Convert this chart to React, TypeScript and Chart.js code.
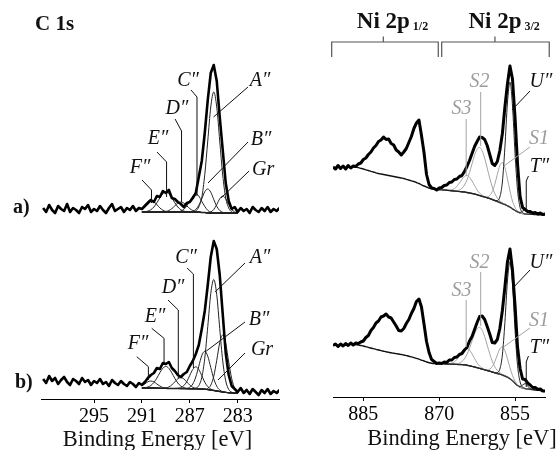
import React, { useEffect, useRef } from 'react';
import { Chart, registerables } from 'chart.js';

Chart.register(...registerables);

// ---------------- C 1s (binding energy, eV) ----------------
const C1S_ENERGY = [
  299.25, 299, 298.75, 298.5, 298.25, 298, 297.75, 297.5, 297.25, 297,
  296.75, 296.5, 296.25, 296, 295.75, 295.5, 295.25, 295, 294.75, 294.5,
  294.25, 294, 293.75, 293.5, 293.25, 293, 292.75, 292.5, 292.25, 292,
  291.75, 291.5, 291.25, 291, 290.75, 290.5, 290.25, 290, 289.75, 289.5,
  289.25, 289, 288.75, 288.5, 288.25, 288, 287.75, 287.5, 287.25, 287,
  286.75, 286.5, 286.25, 286, 285.75, 285.5, 285.25, 285, 284.75, 284.5,
  284.25, 284, 283.75, 283.5, 283.25, 283, 282.75, 282.5, 282.25, 282,
  281.75, 281.5, 281.25, 281, 280.75, 280.5, 280.25, 280, 279.75, 279.5,
];
// measured intensity (a.u., spectra offset vertically)
const C1S_MEASURED_A = [
  191, 187, 194, 189, 186, 193, 190, 188, 195, 187,
  191, 189, 186, 192, 190, 194, 187, 190, 188, 193,
  189, 186, 191, 195, 188, 190, 192, 187, 191, 189,
  193, 188, 191, 190, 193, 196, 199, 197, 203, 202,
  208, 206, 209, 201, 200, 197, 195, 192, 196, 197,
  201, 206, 222, 238, 266, 299, 326, 334, 318, 282,
  249, 216, 198, 190, 192, 187, 191, 188, 190, 186,
  192, 189, 187, 191, 188, 192, 187, 190, 188, 191,
];
const C1S_MEASURED_B = [
  20, 16, 23, 18, 21, 15, 19, 22, 17, 14,
  20, 18, 15, 21, 17, 19, 14, 18, 16, 20,
  15, 17, 13, 19, 16, 14, 18, 15, 13, 17,
  15, 12, 16, 14, 17, 21, 24, 26, 31, 30,
  36, 35, 37, 31, 28, 24, 22, 25, 27, 33,
  38, 45, 54, 70, 88, 114, 142, 158, 150, 124,
  85, 46, 24, 13, 10, 7, 11, 6, 9, 5,
  10, 7, 4, 9, 6, 10, 5, 8, 6, 9,
];
const C1S_FIT_ENERGY = C1S_ENERGY.slice(33, 66); // 291 ... 283
const C1S_BG_A = [
  187, 187, 187, 187, 187, 187, 187, 187, 187, 187, 187, 187, 187, 187, 187, 187, 187, 187, 187, 187,
  186.5, 186.5, 186, 186, 186, 186, 186, 186, 186, 186, 186, 186, 186,
];
const C1S_BG_B = [
  11, 11, 11, 11, 11, 10.8, 10.7, 10.6, 10.6, 10.5, 10.5, 10.5, 10.5,
  10.4, 10.4, 10.3, 10.3, 10.2, 10.2, 10.1, 10,
  9.7, 9.4, 9, 8.5, 8, 7.5, 7, 6.6, 6.3, 6.1, 6, 6,
];
// fitted components (height above background)
const A_A = [0,0,0,0,0,0,0,0,0,0,0,0,0,0,0,0,0,0,1,5,15,38,72,106,121,106,72,38,15,5,1,0,0];
const A_B = [0,0,0,0,0,0,0,0,0,0,0,0,0,0,0,0,0,0.7,2.5,6.7,13.6,20.8,24,20.8,13.6,6.7,2.5,0.7,0,0,0,0,0];
const A_GR = [0,0,0,0,0,0,0,0,0,0,0,0,0,0,0,0,0,0,0,0,0,0,0.2,1,3.5,8.4,14.2,17,14.2,8.4,3.5,1,0.2];
const A_C = [0,0,0,0,0,0,0,0,0,0,0,0,0.2,0.9,2.6,6.1,11.1,16,18,16,11.1,6.1,2.6,0.9,0.2,0,0,0,0,0,0,0,0];
const A_D = [0,0,0,0,0,0,0,0,0.5,1.5,3.4,6.2,8.9,10,8.9,6.2,3.4,1.5,0.5,0,0,0,0,0,0,0,0,0,0,0,0,0,0];
const A_E = [0.1,0.3,0.9,2.3,5,9.2,14.1,18.3,20,18.3,14.1,9.2,5,2.3,0.9,0.3,0,0,0,0,0,0,0,0,0,0,0,0,0,0,0,0,0];
const A_F = [4.1,7.4,10.6,12,10.6,7.4,4.1,1.8,0.6,0,0,0,0,0,0,0,0,0,0,0,0,0,0,0,0,0,0,0,0,0,0,0,0];

const B_A = [0,0,0,0,0,0,0,0,0,0,0,0,0,0,0,0,0,0,0.7,3.2,11.5,31.1,63,96.3,111,96.3,63,31.1,11.5,3.2,0.7,0,0];
const B_B = [0,0,0,0,0,0,0,0,0,0,0,0,0,0,0,0.3,1.5,4.8,11.8,22.6,33.4,38,33.4,22.6,11.8,4.8,1.5,0.3,0,0,0,0,0];
const B_GR = [0,0,0,0,0,0,0,0,0,0,0,0,0,0,0,0,0,0,0,0,0,0.2,1.2,4.8,14.2,30.7,48.8,57,48.8,30.7,14.2,4.8,1.2];
const B_C = [0,0,0,0,0,0,0,0,0,0,0,0,0.2,1,3,7.1,13.4,19.4,22,19.4,13.4,7.1,3,1,0.2,0,0,0,0,0,0,0,0];
const B_D = [0,0,0,0,0,0,0,0,0.5,1.5,3.6,6.7,9.7,11,9.7,6.7,3.6,1.5,0.5,0,0,0,0,0,0,0,0,0,0,0,0,0,0];
const B_E = [0.1,0.3,1,2.5,5.5,10.1,15.6,20.2,22,20.2,15.6,10.1,5.5,2.5,1,0.3,0,0,0,0,0,0,0,0,0,0,0,0,0,0,0,0,0];
const B_F = [2.3,4.2,6.2,7,6.2,4.2,2.3,0.9,0.3,0,0,0,0,0,0,0,0,0,0,0,0,0,0,0,0,0,0,0,0,0,0,0,0];

const C1S_TICKS = [295, 291, 287, 283];

// ---------------- Ni 2p ----------------
const NI_ENERGY = [
  891, 890.5, 890, 889.5, 889, 888.5, 888, 887.5, 887, 886.5,
  886, 885.5, 885, 884.5, 884, 883.5, 883, 882.5, 882, 881.5,
  881, 880.5, 880, 879.5, 879, 878.5, 878, 877.5, 877, 876.5,
  876, 875.5, 875, 874.5, 874, 873.5, 873, 872.5, 872, 871.5,
  871, 870.5, 870, 869.5, 869, 868.5, 868, 867.5, 867, 866.5,
  866, 865.5, 865, 864.5, 864, 863.5, 863, 862.5, 862, 861.5,
  861, 860.5, 860, 859.5, 859, 858.5, 858, 857.5, 857, 856.5,
  856, 855.5, 855, 854.5, 854, 853.5, 853, 852.5, 852, 851.5,
  851, 850.5, 850, 849.5, 849,
];
const NI_MEASURED_A = [
  230, 228, 231.5, 228.5, 231, 228, 231.5, 229, 231, 230.5,
  233, 234, 237.5, 239, 242.5, 245, 249, 251.5, 255.5, 257,
  260, 257.5, 258, 253.5, 252, 247, 245, 242, 245, 248.5,
  254.5, 260.5, 268.5, 274, 277, 261.5, 244.5, 222.5, 212.5, 209,
  208.5, 207, 209, 209.5, 211.5, 212, 214.5, 215, 217.5, 218,
  220.5, 221.5, 225.5, 230.5, 236.5, 243.5, 250.5, 255.5, 260, 259.5,
  257.5, 251.5, 242.5, 233.5, 231.5, 235.5, 246.5, 263.5, 290, 313,
  331, 318, 280, 233, 200.5, 189.5, 187.5, 185.5, 185.5, 184,
  184.5, 183, 184, 182.5, 183,
];
const NI_MEASURED_B = [
  51.5, 53, 50.5, 53, 51, 53.5, 51.5, 54, 52, 54,
  53.5, 55, 56, 59.5, 61.5, 66.5, 69.5, 74, 76, 80,
  81, 83, 80, 79, 75, 71, 66.5, 66, 68.5, 73.5,
  77.5, 83.5, 88.5, 95.5, 98, 90, 73, 55.5, 44.5, 37.5,
  35.5, 33.5, 34, 33.5, 35, 34.5, 37, 37, 39.5, 40,
  42.5, 43.5, 47, 49.5, 56, 60.5, 67.5, 74.5, 80.5, 81,
  77.5, 70.5, 63, 54.5, 54, 57.5, 68.5, 86.5, 110, 135,
  148, 127, 92, 50, 28.5, 18, 17.5, 14, 12, 9.5,
  9.5, 7.5, 8, 6, 6,
];
const NI_BG_ENERGY = NI_ENERGY.slice(8); // 887 ... 849
const NI_BG_A = [
  230, 229.7, 229.4, 228.7, 228, 227.2, 226.5, 225.7, 225, 224.2,
  223.5, 223, 222.5, 222, 221.5, 221, 220.5, 220, 219.5, 219,
  218.5, 217.7, 217, 216.2, 215.5, 214.5, 213.5, 212.2, 211, 210,
  209, 208.3, 207.6, 207.4, 207.2, 207.1, 207, 206.7, 206.5, 206.2,
  206, 205.7, 205.5, 205.2, 205, 204.5, 204, 203.5, 203, 202.2,
  201.5, 200.7, 200, 199.2, 198.5, 197.5, 196.5, 195.5, 194.5, 193.5,
  192.5, 191.2, 190, 188.2, 186.5, 185.2, 184, 183.5, 183, 182.8,
  182.7, 182.6, 182.5, 182.4, 182.3, 182.1, 182,
];
const NI_BG_B = [
  53, 52.5, 52, 51.5, 51, 50.3, 49.6, 49, 48.3, 47.6,
  47, 46.4, 45.8, 45.2, 44.7, 44.2, 43.8, 43.4, 43, 42.5,
  42, 41.4, 40.8, 40.1, 39.4, 38.6, 37.8, 36.9, 36, 35,
  34.3, 33.8, 33.5, 33.4, 33.3, 33.2, 33.1, 33, 32.9, 32.8,
  32.7, 32.6, 32.5, 32.4, 32.2, 31.8, 31.2, 30.6, 30, 29.3,
  28.6, 27.9, 27.2, 26.5, 25.8, 25, 24.2, 23.5, 22.8, 22,
  21, 19.8, 18.2, 16.2, 13.8, 11.5, 10, 9, 8.4, 8,
  7.7, 7.4, 7.1, 6.8, 6.5, 6.2, 6,
];
const NI_FIT_ENERGY = NI_ENERGY.slice(44); // 869 ... 849
const NA_S2 = [0,0,0,0,0.2,0.6,1.6,3.5,7,12.6,20.4,29.7,38.8,45.5,48,45.5,38.8,29.7,20.4,12.6,7,3.5,1.6,0.6,0.2,0,0,0,0,0,0,0,0,0,0,0,0,0,0,0,0];
const NA_S3 = [0,0.1,0.4,1.1,2.4,4.9,8.5,12.5,15.7,17,15.7,12.5,8.5,4.9,2.4,1.1,0.4,0.1,0,0,0,0,0,0,0,0,0,0,0,0,0,0,0,0,0,0,0,0,0,0,0];
const NA_S1 = [0,0,0,0,0,0,0,0,0,0,0,0,0,0,0,0,0.3,1,3.1,7.8,16.2,27.1,37,41,37,27.1,16.2,7.8,3.1,1,0.3,0,0,0,0,0,0,0,0,0,0];
const NA_U = [0,0,0,0,0,0,0,0,0,0,0,0,0,0,0,0,0,0,0,0,0,1,5.5,21.5,57.3,102.8,125,102.8,57.3,21.5,5.5,1,0,0,0,0,0,0,0,0,0];
const NA_T = [0,0,0,0,0,0,0,0,0,0,0,0,0,0,0,0,0,0,0,0,0,0,0,0,0,0,0,0,0,0,0.5,2.4,4,2.4,0.5,0,0,0,0,0,0];

const NB_S2 = [0,0,0,0,0.2,0.5,1.4,3,6,10.8,17.4,25.3,33.1,38.9,41,38.9,33.1,25.3,17.4,10.8,6,3,1.4,0.5,0.2,0,0,0,0,0,0,0,0,0,0,0,0,0,0,0,0];
const NB_S3 = [0,0.1,0.4,1.1,2.4,4.9,8.5,12.5,15.7,17,15.7,12.5,8.5,4.9,2.4,1.1,0.4,0.1,0,0,0,0,0,0,0,0,0,0,0,0,0,0,0,0,0,0,0,0,0,0,0];
const NB_S1 = [0,0,0,0,0,0,0,0,0,0,0,0,0,0,0,0,0.2,0.7,2.1,5.3,11.1,18.5,25.3,28,25.3,18.5,11.1,5.3,2.1,0.7,0.2,0,0,0,0,0,0,0,0,0,0];
const NB_U = [0,0,0,0,0,0,0,0,0,0,0,0,0,0,0,0,0,0,0,0,0,0.9,5.1,20.1,53.6,96.2,117,96.2,53.6,20.1,5.1,0.9,0,0,0,0,0,0,0,0,0];
const NB_T = [0,0,0,0,0,0,0,0,0,0,0,0,0,0,0,0,0,0,0,0,0,0,0,0,0,0,0,0,0,0,0.5,3,5,3,0.5,0,0,0,0,0,0];

const NI_TICKS = [885, 870, 855];

// ---------------- styling ----------------
const SERIF = '"Liberation Serif", "Times New Roman", serif';
const BLACK = '#111111';
const GREY = '#a3a3a3';
const GREY_TEXT = '#9c9c9c';

type Pt = [number, number];
interface Label { text: string; at: Pt; color: string }
interface Leader { path: Pt[]; color: string }

const C1S_LABELS: Label[] = [
  { text: 'C\u2033', at: [287.15, 318], color: BLACK },
  { text: 'A\u2033', at: [281.13, 318], color: BLACK },
  { text: 'D\u2033', at: [288.07, 290], color: BLACK },
  { text: 'E\u2033', at: [289.66, 260], color: BLACK },
  { text: 'B\u2033', at: [281.05, 259], color: BLACK },
  { text: 'F\u2033', at: [291.16, 231], color: BLACK },
  { text: 'Gr', at: [280.88, 229], color: BLACK },
  { text: 'C\u2033', at: [287.31, 141], color: BLACK },
  { text: 'A\u2033', at: [281.13, 141], color: BLACK },
  { text: 'D\u2033', at: [288.4, 111], color: BLACK },
  { text: 'E\u2033', at: [289.9, 82], color: BLACK },
  { text: 'B\u2033', at: [281.22, 79], color: BLACK },
  { text: 'F\u2033', at: [291.32, 55], color: BLACK },
  { text: 'Gr', at: [280.97, 49], color: BLACK },
];
const C1S_LEADERS: Leader[] = [
  { path: [[286.9, 309], [286.4, 302], [286.4, 203]], color: BLACK },
  { path: [[288.23, 280], [287.69, 268], [287.69, 197]], color: BLACK },
  { path: [[289.74, 247], [288.94, 237], [288.94, 202]], color: BLACK },
  { path: [[290.99, 219], [290.2, 209], [290.2, 196]], color: BLACK },
  { path: [[282.14, 312], [285.02, 282]], color: BLACK },
  { path: [[282.14, 257], [285.48, 216]], color: BLACK },
  { path: [[282.05, 228], [284.39, 201]], color: BLACK },
  { path: [[287.23, 131], [286.7, 125], [286.7, 31]], color: BLACK },
  { path: [[288.82, 99], [287.96, 89], [287.96, 21]], color: BLACK },
  { path: [[290.18, 70.7], [289.15, 60.7], [289.15, 35.7]], color: BLACK },
  { path: [[291.43, 42.3], [290.46, 32.3], [290.46, 19]], color: BLACK },
  { path: [[282.39, 136], [284.89, 107]], color: BLACK },
  { path: [[282.39, 77], [285.73, 47]], color: BLACK },
  { path: [[282.39, 46], [284.64, 19]], color: BLACK },
];
const NI_LABELS: Label[] = [
  { text: 'S2', at: [862.03, 315], color: GREY_TEXT },
  { text: 'S3', at: [865.59, 288], color: GREY_TEXT },
  { text: 'U\u2033', at: [849.87, 315], color: BLACK },
  { text: 'S1', at: [850.26, 258], color: GREY_TEXT },
  { text: 'T\u2033', at: [850.17, 230], color: BLACK },
  { text: 'S2', at: [862.03, 134], color: GREY_TEXT },
  { text: 'S3', at: [865.59, 106], color: GREY_TEXT },
  { text: 'U\u2033', at: [849.87, 134], color: BLACK },
  { text: 'S1', at: [850.26, 76], color: GREY_TEXT },
  { text: 'T\u2033', at: [850.17, 49], color: BLACK },
];
const NI_LEADERS: Leader[] = [
  { path: [[861.79, 305], [861.79, 251]], color: GREY },
  { path: [[864.66, 278], [864.66, 222]], color: GREY },
  { path: [[852.04, 306], [855.6, 287]], color: BLACK },
  { path: [[852.04, 250], [857.19, 231]], color: GREY },
  { path: [[852.34, 221], [852.78, 216], [852.78, 187]], color: BLACK },
  { path: [[861.79, 125], [861.79, 71]], color: GREY },
  { path: [[864.66, 97], [864.66, 50]], color: GREY },
  { path: [[852.04, 127], [855.6, 108]], color: BLACK },
  { path: [[852.04, 69], [857.28, 50]], color: GREY },
  { path: [[852.34, 41], [852.78, 35], [852.78, 10]], color: BLACK },
];

// ---------------- helpers ----------------
function series(xs: number[], ys: number[], color: string, width: number, smooth: boolean) {
  return {
    data: xs.map((x, i) => ({ x, y: ys[i] })),
    borderColor: color,
    borderWidth: width,
    borderJoinStyle: 'round',
    pointRadius: 0,
    fill: false,
    tension: smooth ? 0.4 : 0,
    cubicInterpolationMode: smooth ? 'monotone' : 'default',
  };
}
function onBackground(xs: number[], comp: number[], bgXs: number[], bg: number[]) {
  const lookup = new Map<number, number>();
  bgXs.forEach((e, i) => lookup.set(e, bg[i]));
  return comp.map((v, i) => v + (lookup.get(xs[i]) ?? 0));
}

function overlayPlugin(labels: Label[], leaders: Leader[], offsetX: number, extra: (ctx: CanvasRenderingContext2D, chart: any) => void) {
  return {
    id: 'overlay',
    afterDraw(chart: any) {
      const ctx: CanvasRenderingContext2D = chart.ctx;
      const sx = chart.scales.x;
      const sy = chart.scales.y;
      ctx.save();
      ctx.lineWidth = 1;
      for (const l of leaders) {
        ctx.beginPath();
        ctx.strokeStyle = l.color;
        l.path.forEach(([e, v], i) => {
          const px = sx.getPixelForValue(e);
          const py = sy.getPixelForValue(v);
          if (i === 0) ctx.moveTo(px, py); else ctx.lineTo(px, py);
        });
        ctx.stroke();
      }
      ctx.font = `italic 20px ${SERIF}`;
      ctx.textAlign = 'center';
      ctx.textBaseline = 'middle';
      for (const a of labels) {
        ctx.fillStyle = a.color;
        ctx.fillText(a.text, sx.getPixelForValue(a.at[0]), sy.getPixelForValue(a.at[1]));
      }
      ctx.translate(-offsetX, 0);
      extra(ctx, chart);
      ctx.restore();
    },
  };
}

function xScale(min: number, max: number, ticks: number[], axisHeight: number) {
  return {
    type: 'linear',
    reverse: true,
    min,
    max,
    afterFit: (s: any) => { s.height = axisHeight; },
    afterBuildTicks: (s: any) => { s.ticks = ticks.map((v) => ({ value: v })); },
    grid: { display: true, drawOnChartArea: false, drawTicks: true, tickLength: 4, color: '#000', lineWidth: 1 },
    border: { display: true, color: '#000', width: 1 },
    ticks: {
      font: { family: SERIF, size: 20 },
      color: '#000',
      padding: 2,
      maxRotation: 0,
      autoSkip: false,
      callback: (v: any) => String(v),
    },
  };
}

function buildC1s() {
  const datasets: any[] = [
    series(C1S_ENERGY, C1S_MEASURED_A, '#000', 2.6, false),
    series(C1S_ENERGY, C1S_MEASURED_B, '#000', 2.6, false),
  ];
  const compsA = [A_A, A_B, A_GR, A_C, A_D, A_E, A_F];
  const compsB = [B_A, B_B, B_GR, B_C, B_D, B_E, B_F];
  compsA.forEach((c) => datasets.push(series(C1S_FIT_ENERGY, onBackground(C1S_FIT_ENERGY, c, C1S_FIT_ENERGY, C1S_BG_A), '#222', 1, true)));
  compsB.forEach((c) => datasets.push(series(C1S_FIT_ENERGY, onBackground(C1S_FIT_ENERGY, c, C1S_FIT_ENERGY, C1S_BG_B), '#222', 1, true)));
  datasets.push(series(C1S_FIT_ENERGY, C1S_BG_A, '#111', 1.4, true));
  datasets.push(series(C1S_FIT_ENERGY, C1S_BG_B, '#111', 1.4, true));

  const extra = (ctx: CanvasRenderingContext2D) => {
    ctx.fillStyle = '#111';
    ctx.textAlign = 'left';
    ctx.textBaseline = 'alphabetic';
    ctx.font = `bold 21px ${SERIF}`;
    ctx.fillText('C 1s', 35, 30);
    ctx.font = `bold 20px ${SERIF}`;
    ctx.fillText('a)', 13, 213);
    ctx.fillText('b)', 15, 388);
    ctx.textAlign = 'center';
    ctx.font = `22.5px ${SERIF}`;
    ctx.fillText('Binding Energy [eV]', 157.5, 446);
  };

  return {
    type: 'line',
    data: { datasets },
    options: {
      responsive: false,
      animation: false,
      devicePixelRatio: 1,
      layout: { autoPadding: false, padding: { top: 40, left: 41.7, right: 11, bottom: 0 } },
      plugins: { legend: { display: false }, tooltip: { enabled: false }, title: { display: false } },
      scales: {
        x: xScale(279.55, 299.37, C1S_TICKS, 51),
        y: { type: 'linear', display: false, min: 0, max: 359 },
      },
    },
    plugins: [overlayPlugin(C1S_LABELS, C1S_LEADERS, 0, extra)],
  };
}

function buildNi(offsetX: number) {
  const datasets: any[] = [
    series(NI_ENERGY, NI_MEASURED_A, '#000', 3, false),
    series(NI_ENERGY, NI_MEASURED_B, '#000', 3, false),
  ];
  [NA_U, NA_T].forEach((c) => datasets.push(series(NI_FIT_ENERGY, onBackground(NI_FIT_ENERGY, c, NI_BG_ENERGY, NI_BG_A), '#222', 1, true)));
  [NB_U, NB_T].forEach((c) => datasets.push(series(NI_FIT_ENERGY, onBackground(NI_FIT_ENERGY, c, NI_BG_ENERGY, NI_BG_B), '#222', 1, true)));
  [NA_S1, NA_S2, NA_S3].forEach((c) => datasets.push(series(NI_FIT_ENERGY, onBackground(NI_FIT_ENERGY, c, NI_BG_ENERGY, NI_BG_A), GREY, 1, true)));
  [NB_S1, NB_S2, NB_S3].forEach((c) => datasets.push(series(NI_FIT_ENERGY, onBackground(NI_FIT_ENERGY, c, NI_BG_ENERGY, NI_BG_B), GREY, 1, true)));
  datasets.push(series(NI_BG_ENERGY, NI_BG_A, '#111', 1.4, true));
  datasets.push(series(NI_BG_ENERGY, NI_BG_B, '#111', 1.4, true));

  const extra = (ctx: CanvasRenderingContext2D, chart: any) => {
    const sx = chart.scales.x;
    const px = (e: number) => sx.getPixelForValue(e) + offsetX;
    const brackets: [number, number, number, string][] = [
      [891.26, 870.18, 881.05, '1/2'],
      [869.5, 848.23, 858.97, '3/2'],
    ];
    ctx.strokeStyle = '#555';
    ctx.lineWidth = 1.2;
    ctx.fillStyle = '#111';
    ctx.textBaseline = 'alphabetic';
    for (const [a, b, c, sub] of brackets) {
      ctx.beginPath();
      ctx.moveTo(px(a), 57);
      ctx.lineTo(px(a), 42);
      ctx.lineTo(px(b), 42);
      ctx.lineTo(px(b), 57);
      ctx.moveTo(px(c), 42);
      ctx.lineTo(px(c), 36.5);
      ctx.stroke();
      ctx.font = `bold 23px ${SERIF}`;
      ctx.textAlign = 'center';
      ctx.fillText('Ni 2p', px(c), 28);
      const w = ctx.measureText('Ni 2p').width;
      ctx.font = `bold 12px ${SERIF}`;
      ctx.textAlign = 'left';
      ctx.fillText(sub, px(c) + w / 2 + 3, 30);
    }
    ctx.textAlign = 'center';
    ctx.font = `22.5px ${SERIF}`;
    ctx.fillText('Binding Energy [eV]', 462, 445);
  };

  return {
    type: 'line',
    data: { datasets },
    options: {
      responsive: false,
      animation: false,
      devicePixelRatio: 1,
      layout: { autoPadding: false, padding: { top: 40, left: 43, right: 13, bottom: 0 } },
      plugins: { legend: { display: false }, tooltip: { enabled: false }, title: { display: false } },
      scales: {
        x: xScale(849.07, 891.0, NI_TICKS, 53),
        y: { type: 'linear', display: false, min: 0, max: 357 },
      },
    },
    plugins: [overlayPlugin(NI_LABELS, NI_LEADERS, offsetX, extra)],
  };
}

function Panel({ left, width, build }: { left: number; width: number; build: () => any }) {
  const ref = useRef<HTMLCanvasElement>(null);
  useEffect(() => {
    if (!ref.current) return;
    const chart = new Chart(ref.current, build());
    return () => chart.destroy();
  }, []);
  return (
    <canvas
      ref={ref}
      width={width}
      height={450}
      style={{ position: 'absolute', left, top: 0, width, height: 450 }}
    />
  );
}

export default function App() {
  return (
    <div style={{ position: 'absolute', left: 0, top: 0, width: 558, height: 450, overflow: 'hidden', background: '#fff' }}>
      <Panel left={0} width={290} build={buildC1s} />
      <Panel left={290} width={268} build={() => buildNi(290)} />
    </div>
  );
}
